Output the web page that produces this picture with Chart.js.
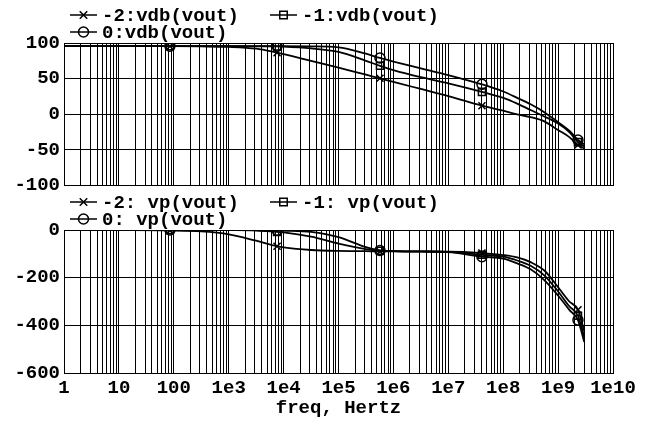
<!DOCTYPE html>
<html>
<head>
<meta charset="utf-8">
<script src="https://cdn.jsdelivr.net/npm/chart.js@4/dist/chart.umd.min.js"></script>
<style>
  html, body { margin: 0; padding: 0; background: #fff; }
  #wrap { position: relative; width: 658px; height: 424px; }
  #top { position: absolute; left: 0; top: 0; width: 658px; height: 201px; }
  #bot { position: absolute; left: 0; top: 190px; width: 658px; height: 234px; }
</style>
</head>
<body>
<div id="wrap">
  <div id="top"><canvas id="mag"></canvas></div>
  <div id="bot"><canvas id="phase"></canvas></div>
</div>
<script>
// frequency sweep points (Hz)
const freqs = [1, 10, 85, 316, 1e3, 3.16e3, 7.6e3, 1e4, 3.16e4, 1e5, 3.16e5, 5.7e5,
               1e6, 3.16e6, 1e7, 4.1e7, 1e8, 1.8e8, 3.16e8, 5.6e8, 1e9, 1.6e9, 2.3e9, 3e9];
// where the curve markers sit
const markerFreqs = [85, 7.6e3, 5.7e5, 4.1e7, 2.3e9];

// vdb(vout)
const vdbM2 = [95.5, 95.5, 95.5, 95.2, 94.5, 92, 86.5, 84.5, 75, 65.5, 55.5, 50.5,
               45.5, 35.5, 25.5, 12, 5, 0, -4, -10, -22, -32, -43, -48];
const vdbM1 = [95.5, 95.5, 95.5, 95.5, 95.5, 95.4, 95.2, 95, 92.5, 87.5, 75, 68,
               62, 52, 43.5, 31.5, 23, 15, 6, -3, -13, -25, -39, -45];
const vdb0  = [95.5, 95.5, 95.5, 95.5, 95.5, 95.5, 95.5, 95.5, 95.3, 94, 85, 79,
               74, 64.5, 55, 42, 32, 23, 14, 3, -11, -23, -36, -42];

// vp(vout)
const vpM2 = [0, -0.5, -2, -6, -18, -45, -68, -73, -84, -88, -89, -90,
              -90, -91, -91, -97, -105, -115, -135, -170, -240, -300, -335, -425];
const vpM1 = [0, 0, 0, 0, -0.5, -2, -8, -10, -28, -57, -80, -87,
              -89, -90, -92, -104, -112, -128, -150, -190, -258, -320, -360, -450];
const vp0  = [0, 0, 0, 0, 0, 0, -1, -2, -8, -30, -72, -86,
              -89, -90, -93, -112, -120, -140, -165, -210, -275, -335, -378, -470];

const magLabels = ['-2:vdb(vout)', '-1:vdb(vout)', '0:vdb(vout)'];
const phaseLabels = ['-2: vp(vout)', '-1: vp(vout)', '0: vp(vout)'];
const markerStyles = ['crossRot', 'rect', 'circle'];

const xTickLabels = ['1', '10', '100', '1e3', '1e4', '1e5', '1e6', '1e7', '1e8', '1e9', '1e10'];
const xMajor = xTickLabels.map(Number);

Chart.defaults.font = { family: 'Liberation Mono', size: 19, weight: 'bold' };
Chart.defaults.color = '#000';

function xTicksAll() {
    const out = [];
    for (let k = 0; k < 10; k++) {
        for (let m = 1; m < 10; m++) out.push({ value: m * Math.pow(10, k) });
    }
    out.push({ value: 1e10 });
    return out;
}

function makeSets(labels, series) {
    return series.map((vals, i) => ({
        label: labels[i],
        data: freqs.map((f, j) => ({ x: f, y: vals[j] })),
        borderColor: '#000',
        borderWidth: 1.8,
        backgroundColor: 'rgba(0,0,0,0)',
        pointStyle: markerStyles[i],
        pointRadius: ctx => markerFreqs.includes(freqs[ctx.dataIndex]) ? 5 : 0,
        pointBorderColor: '#000',
        pointBorderWidth: 1.5,
        pointBackgroundColor: 'rgba(0,0,0,0)',
        cubicInterpolationMode: 'monotone',
        fill: false
    }));
}

function drawMarker(ctx, style, x, y, r) {
    ctx.beginPath();
    if (style === 'circle') {
        ctx.arc(x, y, r, 0, Math.PI * 2);
    } else if (style === 'rect') {
        ctx.rect(x - r * 0.75, y - r * 0.75, r * 1.5, r * 1.5);
    } else {
        const d = r * 0.75;
        ctx.moveTo(x - d, y - d); ctx.lineTo(x + d, y + d);
        ctx.moveTo(x + d, y - d); ctx.lineTo(x - d, y + d);
    }
    ctx.stroke();
}

// two-column legend above each plot
const spiceLegend = {
    id: 'spiceLegend',
    afterDraw(chart) {
        const ctx = chart.ctx;
        const area = chart.chartArea;
        ctx.save();
        ctx.strokeStyle = '#000';
        ctx.fillStyle = '#000';
        ctx.font = 'bold 19px "Liberation Mono"';
        ctx.textBaseline = 'middle';
        chart.data.datasets.forEach((ds, i) => {
            const col = i === 1 ? 1 : 0;
            const row = i === 2 ? 1 : 0;
            const x = area.left + 6 + col * 200;
            const y = area.top - 28 + row * 17;
            ctx.lineWidth = 1.5;
            ctx.beginPath();
            ctx.moveTo(x, y);
            ctx.lineTo(x + 27, y);
            ctx.stroke();
            drawMarker(ctx, markerStyles[i], x + 13.5, y, 5);
            ctx.fillText(ds.label, x + 32, y + 1);
        });
        ctx.restore();
    }
};

function xScale(showLabels, h) {
    return {
        type: 'logarithmic',
        min: 1,
        max: 1e10,
        afterBuildTicks: s => { s.ticks = xTicksAll(); },
        afterFit: s => { s.height = h; },
        grid: { color: '#000', lineWidth: 1, drawTicks: false },
        border: { color: '#000', width: 1 },
        ticks: {
            display: showLabels,
            autoSkip: false,
            maxRotation: 0,
            padding: 4,
            callback: v => {
                const k = xMajor.indexOf(v);
                return k >= 0 ? xTickLabels[k] : '';
            }
        },
        title: { display: showLabels, text: 'freq, Hertz', padding: { top: 0, bottom: 4 } }
    };
}

function yScale(min, max, step) {
    return {
        min: min,
        max: max,
        afterFit: s => { s.width = 64; },
        grid: { color: '#000', lineWidth: 1, drawTicks: false },
        border: { color: '#000', width: 1 },
        ticks: { stepSize: step, padding: 4 }
    };
}

new Chart(document.getElementById('mag'), {
    type: 'line',
    data: { datasets: makeSets(magLabels, [vdbM2, vdbM1, vdb0]) },
    options: {
        responsive: true,
        maintainAspectRatio: false,
        animation: false,
        layout: { padding: { top: 43, right: 45, bottom: 0, left: 0 } },
        plugins: { legend: { display: false }, tooltip: { enabled: false } },
        scales: { x: xScale(false, 0), y: yScale(-100, 100, 50) }
    },
    plugins: [spiceLegend]
});

new Chart(document.getElementById('phase'), {
    type: 'line',
    data: { datasets: makeSets(phaseLabels, [vpM2, vpM1, vp0]) },
    options: {
        responsive: true,
        maintainAspectRatio: false,
        animation: false,
        layout: { padding: { top: 40, right: 45, bottom: 0, left: 0 } },
        plugins: { legend: { display: false }, tooltip: { enabled: false } },
        scales: { x: xScale(true, 51), y: yScale(-600, 0, 200) }
    },
    plugins: [spiceLegend]
});
</script>
</body>
</html>
